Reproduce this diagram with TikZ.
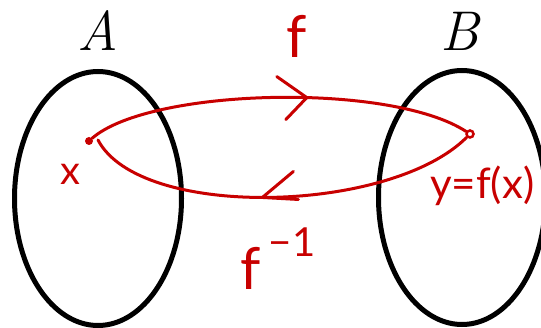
\documentclass[tikz,border=0pt]{standalone}
\usepackage{fontspec}
\newfontfamily\handfont{Lato}
\usetikzlibrary{shapes.geometric}
\definecolor{penred}{RGB}{200,0,0}
\begin{document}
\begin{tikzpicture}[x=1pt,y=-1pt,
  setshape/.style={ellipse, draw=black, line width=5pt, minimum width=167pt, minimum height=254pt, inner sep=0pt},
  setlabel/.style={inner sep=0pt, font=\fontsize{56}{60}\selectfont\itshape},
  pen/.style={draw=penred, line width=3pt, line cap=round, line join=round},
  handtext/.style={text=penred, inner sep=0pt, font=\handfont\fontsize{#1}{#1}\selectfont}]
\useasboundingbox (0,0) rectangle (541,328);
% sets
\node[setshape] (A) at (98,198.5) {};
\node[setshape] (B) at (462,197.5) {};
\node[setlabel] (LA) at (98,31) {A};
\node[setlabel] (LB) at (460,31) {B};
% points
\node[circle, fill=penred, inner sep=0pt, minimum size=8pt] (px) at (89,141) {};
\node[circle, draw=penred, line width=2.5pt, inner sep=0pt, minimum size=7pt] (py) at (470,134) {};
\coordinate (xend) at (98,140);
% f : A -> B
\draw[pen] (px) .. controls (150,88) and (390,82) .. coordinate[pos=0.575] (ftip) (py);
\draw[pen] ([shift={(-30,-21)}]ftip) -- (ftip) -- ([shift={(-21,22)}]ftip);
% f^{-1} : B -> A
\draw[pen] (py) .. controls (390,214) and (140,220) .. coordinate[pos=0.515] (gtip) (xend);
\draw[pen] ([shift={(31,-26)}]gtip) -- (gtip) -- ([shift={(36,2)}]gtip);
% labels
\node[handtext=58, anchor=base] (flab) at (297,58) {f};
\node[handtext=40, anchor=base] (xlab) at (70,185) {x};
\node[handtext=58, anchor=base] (finv) at (278,290) {f\hspace{8pt}{\fontsize{40}{40}\selectfont\raisebox{33pt}{−1}}};
\node[handtext=42, anchor=base west] (ylab) at (430,199) {y=f(x)};
\end{tikzpicture}
\end{document}
